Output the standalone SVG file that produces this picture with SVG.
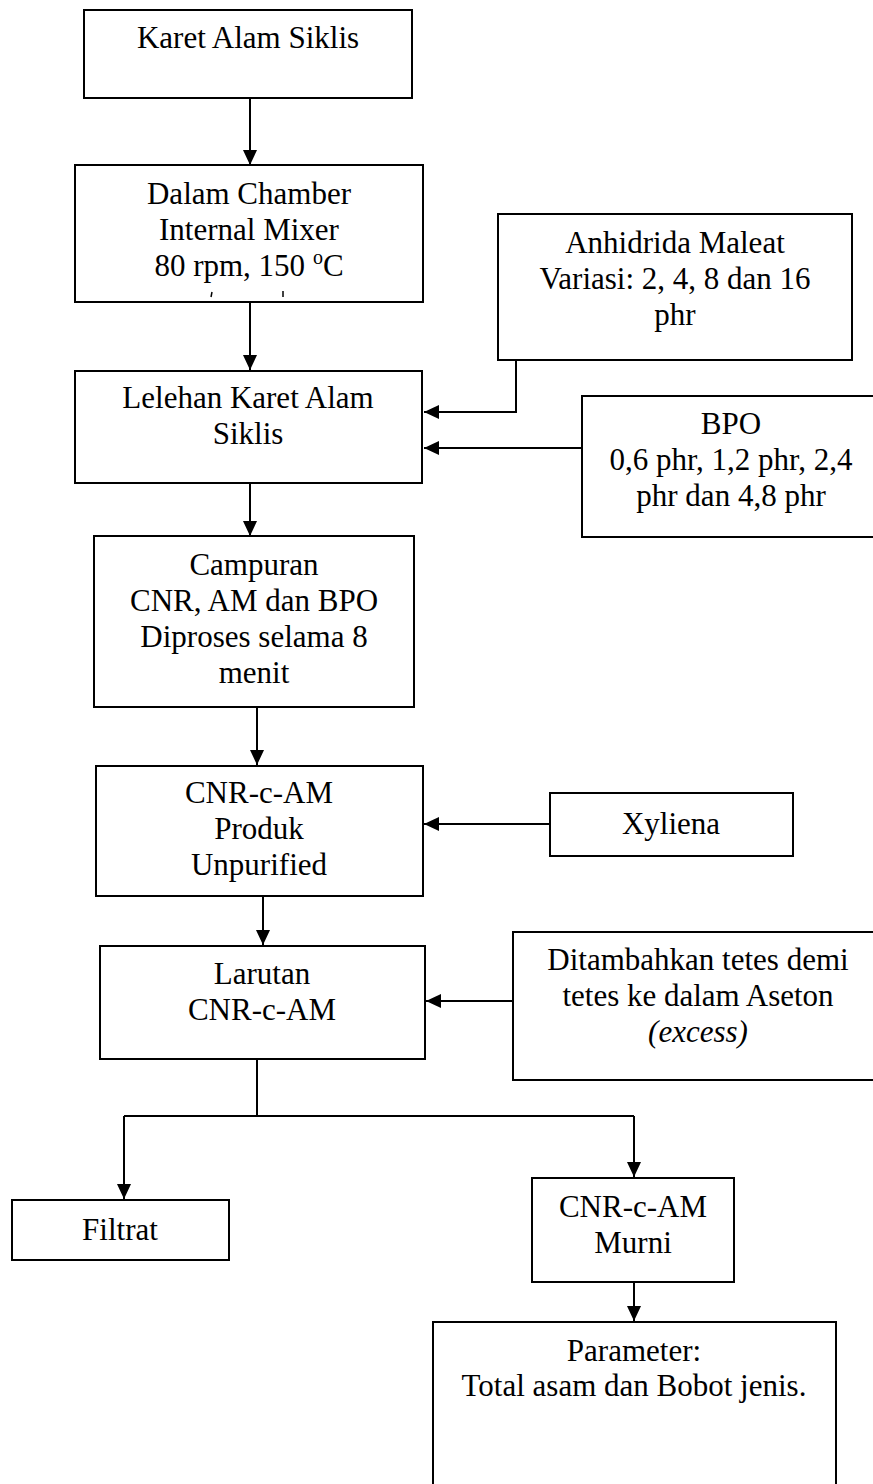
<svg xmlns="http://www.w3.org/2000/svg" width="873" height="1484" viewBox="0 0 873 1484">
<style>
.box{fill:#fff;stroke:#000;stroke-width:2}
.t{font-family:"Liberation Serif","Times New Roman",serif;font-size:31px;fill:#000;text-anchor:middle}
.i{font-style:italic}
.c{fill:none;stroke:#000;stroke-width:2}
.ca{fill:none;stroke:#000;stroke-width:2;marker-end:url(#ah)}
</style>
<defs>
<marker id="ah" markerUnits="userSpaceOnUse" markerWidth="15" markerHeight="14" refX="15" refY="7" orient="auto">
<path d="M0,0 L15,7 L0,14 z" fill="#000"/>
</marker>
</defs>
<rect width="873" height="1484" fill="#fff"/>
<g id="connectors">
<line class="ca" x1="250" y1="98" x2="250" y2="165"/>
<line class="ca" x1="250" y1="302" x2="250" y2="370"/>
<polyline class="ca" points="516,360 516,412 424,412"/>
<line class="ca" x1="581" y1="448" x2="424" y2="448"/>
<line class="ca" x1="250" y1="483" x2="250" y2="536"/>
<line class="ca" x1="257" y1="707" x2="257" y2="765"/>
<line class="ca" x1="550" y1="824" x2="424" y2="824"/>
<line class="ca" x1="263" y1="896" x2="263" y2="945"/>
<line class="ca" x1="513" y1="1001" x2="426" y2="1001"/>
<line class="c" x1="257" y1="1060" x2="257" y2="1116"/>
<line class="c" x1="124" y1="1116" x2="634" y2="1116"/>
<line class="ca" x1="124" y1="1116" x2="124" y2="1199"/>
<line class="ca" x1="634" y1="1116" x2="634" y2="1177"/>
<line class="ca" x1="634" y1="1282" x2="634" y2="1321"/>
</g>
<g id="karet-alam-siklis">
<rect class="box" x="84" y="10" width="328" height="88"/>
<text class="t" x="248" y="48">Karet Alam Siklis</text>
</g>
<g id="internal-mixer">
<rect class="box" x="75" y="165" width="348" height="137"/>
<text class="t" x="249" y="204">Dalam Chamber</text>
<text class="t" x="249" y="240">Internal Mixer</text>
<text class="t" x="249" y="276">80 rpm, 150 <tspan font-size="20" dy="-12">o</tspan><tspan dy="12">C</tspan></text>
<line x1="212" y1="292" x2="211" y2="297" stroke="#000" stroke-width="1.5"/>
<line x1="283" y1="291" x2="283" y2="297" stroke="#000" stroke-width="1.5"/>
</g>
<g id="anhidrida-maleat">
<rect class="box" x="498" y="214" width="354" height="146"/>
<text class="t" x="675" y="253">Anhidrida Maleat</text>
<text class="t" x="675" y="289">Variasi: 2, 4, 8 dan 16</text>
<text class="t" x="675" y="325">phr</text>
</g>
<g id="lelehan">
<rect class="box" x="75" y="371" width="347" height="112"/>
<text class="t" x="248" y="408">Lelehan Karet Alam</text>
<text class="t" x="248" y="444">Siklis</text>
</g>
<g id="bpo">
<rect class="box" x="582" y="396" width="300" height="141"/>
<text class="t" x="731" y="434">BPO</text>
<text class="t" x="731" y="470">0,6 phr, 1,2 phr, 2,4</text>
<text class="t" x="731" y="506">phr dan 4,8 phr</text>
</g>
<g id="campuran">
<rect class="box" x="94" y="536" width="320" height="171"/>
<text class="t" x="254" y="575">Campuran</text>
<text class="t" x="254" y="611">CNR, AM dan BPO</text>
<text class="t" x="254" y="647">Diproses selama 8</text>
<text class="t" x="254" y="683">menit</text>
</g>
<g id="cnr-c-am-unpurified">
<rect class="box" x="96" y="766" width="327" height="130"/>
<text class="t" x="259" y="803">CNR-c-AM</text>
<text class="t" x="259" y="839">Produk</text>
<text class="t" x="259" y="875">Unpurified</text>
</g>
<g id="xyliena">
<rect class="box" x="550" y="793" width="243" height="63"/>
<text class="t" x="671" y="834">Xyliena</text>
</g>
<g id="larutan">
<rect class="box" x="100" y="946" width="325" height="113"/>
<text class="t" x="262" y="984">Larutan</text>
<text class="t" x="262" y="1020">CNR-c-AM</text>
</g>
<g id="aseton">
<rect class="box" x="513" y="932" width="370" height="148"/>
<text class="t" x="698" y="970">Ditambahkan tetes demi</text>
<text class="t" x="698" y="1006">tetes ke dalam Aseton</text>
<text class="t i" x="698" y="1042">(excess)</text>
</g>
<g id="filtrat">
<rect class="box" x="12" y="1200" width="217" height="60"/>
<text class="t" x="120" y="1240">Filtrat</text>
</g>
<g id="cnr-c-am-murni">
<rect class="box" x="532" y="1178" width="202" height="104"/>
<text class="t" x="633" y="1217">CNR-c-AM</text>
<text class="t" x="633" y="1253">Murni</text>
</g>
<g id="parameter">
<rect class="box" x="433" y="1322" width="403" height="180"/>
<text class="t" x="634" y="1361">Parameter:</text>
<text class="t" x="634" y="1396">Total asam dan Bobot jenis.</text>
</g>
</svg>
